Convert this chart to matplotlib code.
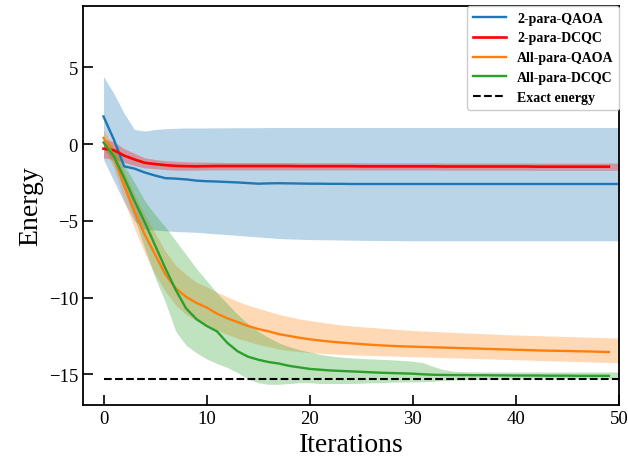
import numpy as np
import matplotlib
matplotlib.use("Agg")
import matplotlib.pyplot as plt

plt.rcParams['font.family'] = ['Liberation Serif', 'DejaVu Serif']
plt.rcParams['mathtext.fontset'] = 'stix'

iterations = list(range(51))

blue_mean = [1.8, 0.3, -1.45, -1.6, -1.85, -2.05, -2.22, -2.25, -2.3, -2.38,
             -2.42, -2.44, -2.47, -2.5, -2.54, -2.58, -2.56, -2.55, -2.56, -2.57,
             -2.58, -2.58, -2.59, -2.59, -2.6, -2.6, -2.6, -2.6, -2.6, -2.6,
             -2.6, -2.6, -2.6, -2.6, -2.6, -2.6, -2.6, -2.6, -2.6, -2.6,
             -2.6, -2.6, -2.6, -2.6, -2.6, -2.6, -2.6, -2.6, -2.6, -2.6, -2.6]
blue_upper = [4.4, 3.3, 2.0, 0.95, 0.85, 0.95, 1.0, 1.03, 1.05, 1.05,
              1.05, 1.06, 1.06, 1.07, 1.07, 1.07, 1.08, 1.08, 1.08, 1.08,
              1.08, 1.08, 1.08, 1.08, 1.08, 1.08, 1.08, 1.08, 1.08, 1.08,
              1.08, 1.08, 1.08, 1.08, 1.08, 1.08, 1.08, 1.08, 1.08, 1.08,
              1.08, 1.08, 1.08, 1.08, 1.08, 1.08, 1.08, 1.08, 1.08, 1.08, 1.08]
blue_lower = [-1.0, -2.4, -3.8, -5.0, -5.55, -5.6, -5.65, -5.7, -5.72, -5.75,
              -5.8, -5.85, -5.9, -5.95, -6.0, -6.05, -6.1, -6.15, -6.18, -6.2,
              -6.22, -6.23, -6.24, -6.25, -6.26, -6.27, -6.28, -6.28, -6.29, -6.29,
              -6.3, -6.3, -6.3, -6.3, -6.3, -6.3, -6.3, -6.3, -6.3, -6.3,
              -6.3, -6.3, -6.3, -6.3, -6.3, -6.3, -6.3, -6.3, -6.3, -6.3, -6.3]

red_mean = [-0.3, -0.4, -0.75, -1.0, -1.22, -1.3, -1.37, -1.42, -1.44, -1.45,
            -1.44, -1.43, -1.43, -1.43, -1.43, -1.43, -1.43, -1.43, -1.43, -1.44,
            -1.44, -1.44, -1.44, -1.44, -1.44, -1.45, -1.45, -1.45, -1.45, -1.45,
            -1.45, -1.45, -1.45, -1.46, -1.46, -1.46, -1.46, -1.46, -1.46, -1.46,
            -1.46, -1.46, -1.47, -1.47, -1.47, -1.47, -1.47, -1.47, -1.47, -1.47, -1.47]
red_upper = [0.35, 0.15, -0.3, -0.6, -0.9, -1.0, -1.08, -1.12, -1.15, -1.17,
             -1.18, -1.19, -1.2, -1.2, -1.2, -1.2, -1.2, -1.2, -1.2, -1.21,
             -1.21, -1.21, -1.21, -1.21, -1.21, -1.22, -1.22, -1.22, -1.22, -1.22,
             -1.22, -1.22, -1.22, -1.23, -1.23, -1.23, -1.23, -1.23, -1.23, -1.23,
             -1.23, -1.23, -1.24, -1.24, -1.24, -1.24, -1.24, -1.24, -1.24, -1.24, -1.24]
red_lower = [-0.9, -1.0, -1.2, -1.4, -1.55, -1.6, -1.66, -1.7, -1.7, -1.7,
             -1.69, -1.68, -1.68, -1.68, -1.68, -1.68, -1.68, -1.68, -1.68, -1.68,
             -1.68, -1.68, -1.68, -1.68, -1.68, -1.69, -1.69, -1.69, -1.69, -1.69,
             -1.69, -1.69, -1.69, -1.7, -1.7, -1.7, -1.7, -1.7, -1.7, -1.7,
             -1.7, -1.7, -1.71, -1.71, -1.71, -1.71, -1.71, -1.71, -1.71, -1.71, -1.71]

orange_mean = [0.4, -0.8, -2.7, -4.4, -5.9, -7.2, -8.5, -9.4, -9.95, -10.35,
               -10.65, -11.05, -11.35, -11.6, -11.85, -12.05, -12.2, -12.38, -12.5, -12.62,
               -12.72, -12.8, -12.87, -12.93, -12.98, -13.03, -13.08, -13.12, -13.15, -13.18,
               -13.2, -13.22, -13.24, -13.26, -13.28, -13.3, -13.32, -13.34, -13.36, -13.38,
               -13.4, -13.42, -13.44, -13.46, -13.47, -13.48, -13.5, -13.51, -13.53, -13.55, -13.56]
orange_upper = [0.9, -0.2, -1.8, -3.3, -4.6, -5.8, -7.0, -7.9, -8.5, -9.0,
                -9.3, -9.65, -9.95, -10.25, -10.5, -10.7, -10.9, -11.1, -11.25, -11.4,
                -11.5, -11.6, -11.7, -11.78, -11.85, -11.9, -11.95, -12.0, -12.05, -12.1,
                -12.15, -12.18, -12.21, -12.24, -12.27, -12.3, -12.33, -12.36, -12.39, -12.42,
                -12.44, -12.46, -12.48, -12.5, -12.52, -12.54, -12.56, -12.58, -12.6, -12.62, -12.64]
orange_lower = [-0.2, -1.6, -3.7, -5.5, -7.1, -8.5, -9.6, -10.5, -11.1, -11.5,
                -11.8, -12.1, -12.4, -12.65, -12.85, -13.05, -13.2, -13.35, -13.45, -13.52,
                -13.58, -13.63, -13.67, -13.7, -13.73, -13.75, -13.77, -13.79, -13.81, -13.83,
                -13.85, -13.87, -13.89, -13.91, -13.93, -13.95, -13.97, -13.99, -14.01, -14.03,
                -14.05, -14.07, -14.09, -14.11, -14.13, -14.15, -14.17, -14.19, -14.21, -14.23, -14.25]

green_mean = [0.1, -0.8, -2.2, -3.7, -5.1, -6.6, -8.1, -9.5, -10.7, -11.4,
              -11.85, -12.2, -12.95, -13.5, -13.85, -14.05, -14.2, -14.3, -14.45, -14.55,
              -14.65, -14.7, -14.75, -14.78, -14.81, -14.84, -14.87, -14.9, -14.92, -14.94,
              -14.96, -15.0, -15.03, -15.04, -15.05, -15.05, -15.06, -15.06, -15.07, -15.07,
              -15.08, -15.08, -15.08, -15.09, -15.09, -15.09, -15.1, -15.1, -15.1, -15.1, -15.1]
green_upper = [0.4, -0.3, -1.4, -2.5, -3.7, -4.6, -5.4, -6.3, -7.2, -8.1,
               -8.9, -9.7, -10.4, -11.1, -11.7, -12.2, -12.6, -12.95, -13.2, -13.4,
               -13.55, -13.7, -13.8, -13.88, -13.93, -13.97, -14.0, -14.03, -14.06, -14.1,
               -14.15, -14.25, -14.5, -14.7, -14.8, -14.83, -14.84, -14.85, -14.85, -14.85,
               -14.85, -14.85, -14.85, -14.85, -14.85, -14.85, -14.85, -14.85, -14.85, -14.85, -14.85]
green_lower = [-0.2, -1.3, -3.0, -4.8, -6.8, -8.7, -10.3, -12.2, -13.1, -13.6,
               -14.0, -14.3, -14.55, -14.9, -15.3, -15.55, -15.65, -15.65, -15.6, -15.55,
               -15.55, -15.6, -15.6, -15.6, -15.6, -15.58, -15.55, -15.55, -15.52, -15.5,
               -15.5, -15.48, -15.45, -15.4, -15.37, -15.35, -15.34, -15.33, -15.32, -15.32,
               -15.31, -15.31, -15.3, -15.3, -15.3, -15.3, -15.3, -15.3, -15.3, -15.3, -15.3]

exact_energy = -15.3

fig = plt.figure(figsize=(6.28, 4.64), dpi=100)
ax = fig.add_axes([0.132, 0.125, 0.854, 0.86])

it = np.array(iterations)
n_short = 50  # lines of the last three series stop at iteration 49

ax.fill_between(it, blue_lower, blue_upper, color='C0', alpha=0.3, lw=0)
ax.plot(it, blue_mean, color='C0', lw=1.7, label='2-para-QAOA')

ax.fill_between(it, red_lower, red_upper, color='red', alpha=0.3, lw=0)
ax.plot(it[:n_short], red_mean[:n_short], color='red', lw=1.9, label='2-para-DCQC')

ax.fill_between(it, orange_lower, orange_upper, color='C1', alpha=0.3, lw=0)
ax.plot(it[:n_short], orange_mean[:n_short], color='C1', lw=1.7, label='All-para-QAOA')

ax.fill_between(it, green_lower, green_upper, color='C2', alpha=0.3, lw=0)
ax.plot(it[:n_short], green_mean[:n_short], color='C2', lw=1.7, label='All-para-DCQC')

ax.plot([it[0], it[-1]], [exact_energy, exact_energy], color='black', ls='--', lw=1.5,
        label='Exact energy')

ax.set_xlim(-2, 50)
ax.set_ylim(-17, 9)
ax.set_xticks([0, 10, 20, 30, 40, 50])
ax.set_yticks([-15, -10, -5, 0, 5])
ax.tick_params(direction='in', length=7, width=1.2, labelsize=13.5)
for s in ax.spines.values():
    s.set_linewidth(1.3)

ax.set_xlabel('Iterations', fontsize=20)
ax.set_ylabel('Energy', fontsize=20)

ax.legend(loc='upper right', bbox_to_anchor=(1.0, 1.0), borderaxespad=0,
          prop={'weight': 'bold', 'size': 10}, handlelength=2.4, framealpha=1.0)

fig.savefig('out.png', dpi=100)
